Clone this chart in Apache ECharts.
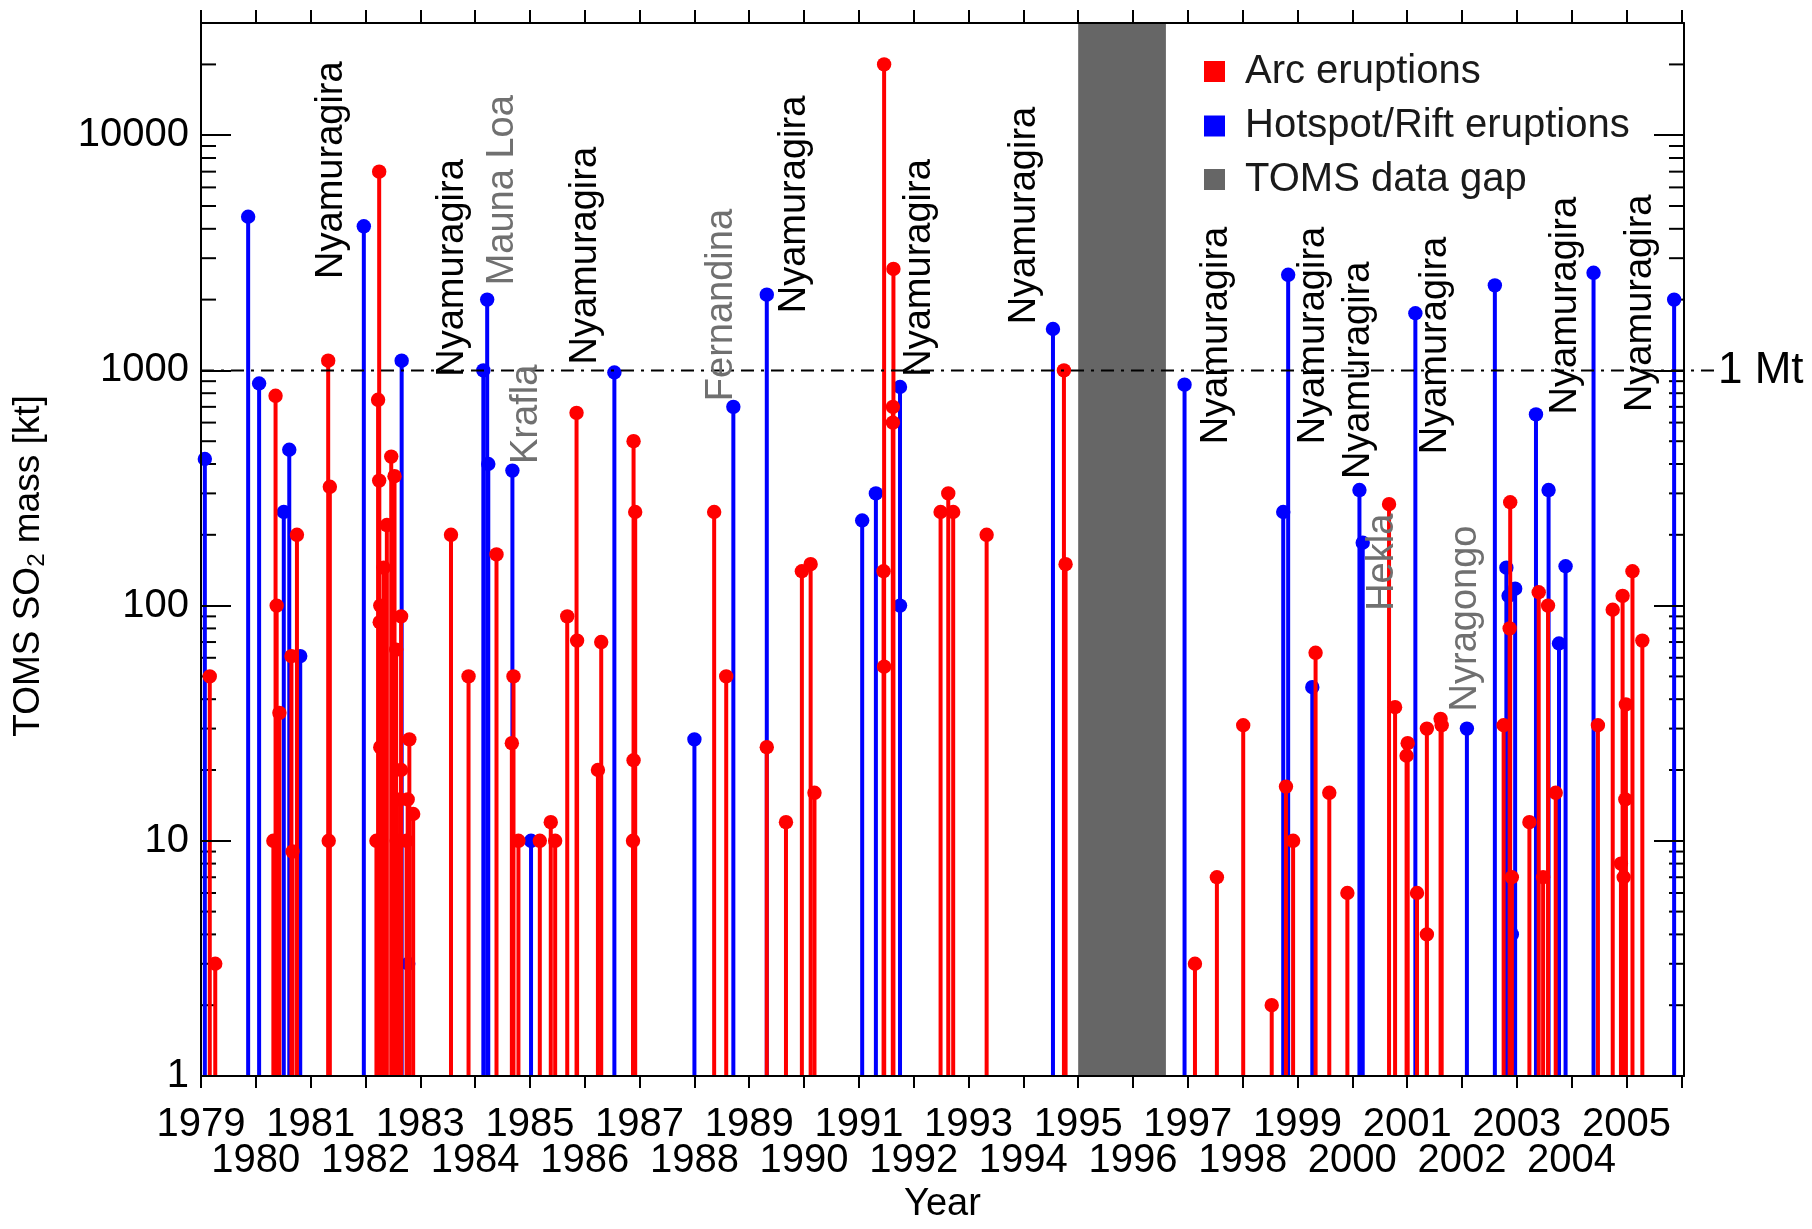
<!DOCTYPE html>
<html>
<head>
<meta charset="utf-8">
<script src="https://cdn.jsdelivr.net/npm/echarts@6/dist/echarts.min.js"></script>
<style>
  html, body { margin: 0; padding: 0; background: #fff; }
  #chart { width: 1812px; height: 1229px; }
</style>
</head>
<body>
<div id="chart"></div>
<script>
// arc eruptions: [year, SO2 mass kt]
var arcEruptions = [
  [1979.16, 50], [1979.26, 3], [1980.32, 10], [1980.36, 780], [1980.38, 100], [1980.43, 35],
  [1980.65, 61], [1980.67, 9], [1980.75, 200], [1981.32, 1100], [1981.35, 320], [1981.33, 10],
  [1982.25, 7000], [1982.23, 750], [1982.25, 340], [1982.47, 430], [1982.53, 355], [1982.39, 220],
  [1982.33, 145], [1982.27, 100], [1982.26, 85], [1982.65, 90], [1982.56, 65], [1982.27, 25],
  [1982.65, 20], [1982.80, 27], [1982.63, 15], [1982.77, 15], [1982.87, 13], [1982.20, 10],
  [1982.57, 10], [1982.75, 10], [1983.56, 200], [1983.88, 50], [1984.39, 165], [1984.70, 50],
  [1984.67, 26], [1984.79, 10], [1985.18, 10], [1985.38, 12], [1985.46, 10], [1985.68, 90],
  [1985.85, 660], [1985.86, 71], [1986.24, 20], [1986.30, 70], [1986.89, 500], [1986.92, 250],
  [1986.89, 22], [1986.88, 10], [1988.36, 250], [1988.58, 50], [1989.32, 25], [1989.67, 12],
  [1989.96, 140], [1990.12, 150], [1990.19, 16], [1991.45, 140], [1991.46, 20000], [1991.46, 55],
  [1991.63, 2700], [1991.62, 700], [1991.62, 600], [1992.49, 250], [1992.63, 300], [1992.72, 250],
  [1993.33, 200], [1994.74, 1000], [1994.77, 150], [1997.13, 3], [1997.53, 7], [1998.01, 31],
  [1998.53, 2], [1998.79, 17], [1998.92, 10], [1999.33, 63], [1999.58, 16], [1999.91, 6],
  [2000.67, 270], [2000.78, 37], [2001.01, 26], [2000.99, 23], [2001.18, 6], [2001.36, 30],
  [2001.36, 4], [2001.61, 33], [2001.63, 31], [2002.76, 31], [2002.88, 275], [2002.87, 80],
  [2002.91, 7], [2003.23, 12], [2003.40, 114], [2003.48, 7], [2003.57, 100], [2003.71, 16],
  [2004.48, 31], [2004.75, 96], [2004.93, 110], [2005.11, 140], [2005.29, 71], [2004.99, 38],
  [2004.98, 15], [2004.90, 8], [2004.95, 7]
];

// hotspot / rift eruptions: [year, SO2 mass kt]
var riftEruptions = [
  [1979.07, 420], [1979.86, 4500], [1980.06, 880], [1980.51, 250], [1980.61, 460], [1980.81, 61],
  [1981.97, 4100], [1982.66, 1100], [1982.78, 3], [1984.15, 1000], [1984.22, 2000], [1984.24, 400],
  [1984.68, 375], [1985.02, 10], [1986.54, 980], [1988.00, 27], [1988.71, 700], [1989.32, 2100],
  [1991.06, 230], [1991.31, 300], [1991.75, 850], [1991.75, 100], [1994.54, 1500], [1996.94, 870],
  [1998.74, 250], [1998.83, 2550], [1999.27, 45], [2000.13, 310], [2000.19, 185], [2001.15, 1750],
  [2002.09, 30], [2002.60, 2300], [2002.81, 145], [2002.85, 110], [2002.97, 118], [2002.91, 4],
  [2003.35, 650], [2003.58, 310], [2003.77, 69], [2003.89, 147], [2004.40, 2600], [2005.87, 2000]
];

// volcano names written along the plot (year, mass where the text starts)
var volcanoNames = ['Nyamuragira', 'Nyamuragira', 'Mauna Loa', 'Krafla', 'Nyamuragira', 'Fernandina',
  'Nyamuragira', 'Nyamuragira', 'Nyamuragira', 'Nyamuragira', 'Nyamuragira', 'Nyamuragira', 'Hekla',
  'Nyamuragira', 'Nyragongo', 'Nyamuragira', 'Nyamuragira'];
var volcanoAt = [[1981.38, 2450], [1983.58, 940], [1984.50, 2300], [1984.94, 400], [1986.02, 1060],
  [1988.50, 740], [1989.82, 1750], [1992.10, 940], [1994.03, 1570], [1997.52, 485], [1999.29, 485],
  [2000.12, 345], [2000.55, 95], [2001.52, 440], [2002.07, 35.5], [2003.88, 650], [2005.25, 665]];
var volcanoIsHotspotOther = [0, 0, 1, 1, 0, 1, 0, 0, 0, 0, 0, 0, 1, 0, 1, 0, 0];

var dataGap = [[1995.0, 1996.6]];
var oneMt = 1000;

var yearTicks = [];
for (var y = 1979; y <= 2006; y++) yearTicks.push(y);
var oddYearLabels = yearTicks.filter(function (v) { return v % 2 === 1 && v < 2006; });
var evenYearLabels = yearTicks.filter(function (v) { return v % 2 === 0 && v < 2006; });
var massLabels = [1, 10, 100, 1000, 10000];
var massMinor = [];
[1, 10, 100, 1000, 10000].forEach(function (d) {
  for (var k = 2; k <= 9; k++) if (k * d < 30000) massMinor.push(k * d);
});

var X_MIN = 1979, X_MAX = 2006.05, Y_MIN = 1, Y_MAX = 30000;
var FONT = 'Liberation Sans, Arial, sans-serif';

function stem(color) {
  return function (params, api) {
    var top = api.coord([api.value(0), api.value(1)]);
    var base = api.coord([api.value(0), Y_MIN]);
    return {
      type: 'group',
      children: [
        { type: 'line', shape: { x1: top[0], y1: base[1], x2: top[0], y2: top[1] },
          style: { stroke: color, lineWidth: 4 } },
        { type: 'circle', shape: { cx: top[0], cy: top[1], r: 7.2 }, style: { fill: color } }
      ]
    };
  };
}

function yearFmt(v) { return String(Math.round(v)); }

var chart = echarts.init(document.getElementById('chart'));
var option = {
  animation: false,
  backgroundColor: '#fff',
  textStyle: { fontFamily: FONT },
  grid: { left: 201, right: 128, top: 23, bottom: 146 },
  xAxis: [
    {
      type: 'value', position: 'bottom', min: X_MIN, max: X_MAX, interval: 1, z: 10,
      axisLine: { onZero: false, lineStyle: { color: '#000', width: 2 } },
      axisTick: { inside: false, length: 12, customValues: yearTicks, lineStyle: { color: '#000', width: 2 } },
      axisLabel: {
        customValues: oddYearLabels, color: '#000', fontSize: 40, lineHeight: 36, margin: 31,
        showMinLabel: true, showMaxLabel: true, formatter: yearFmt
      },
      splitLine: { show: false },
      name: 'Year', nameLocation: 'middle', nameGap: 110,
      nameTextStyle: { fontSize: 38, color: '#000' }
    },
    {
      type: 'value', position: 'top', min: X_MIN, max: X_MAX, interval: 1, z: 10,
      axisLine: { onZero: false, lineStyle: { color: '#000', width: 2 } },
      axisTick: { inside: false, length: 13, customValues: yearTicks, lineStyle: { color: '#000', width: 2 } },
      axisLabel: { show: false },
      splitLine: { show: false }
    },
    {
      type: 'value', position: 'bottom', min: X_MIN, max: X_MAX, interval: 1, z: 10,
      axisLine: { show: false },
      axisTick: { show: false },
      axisLabel: {
        customValues: evenYearLabels, color: '#000', fontSize: 40, lineHeight: 36, margin: 67,
        showMinLabel: true, showMaxLabel: true, formatter: yearFmt
      },
      splitLine: { show: false }
    }
  ],
  yAxis: [
    {
      type: 'log', logBase: 10, min: Y_MIN, max: Y_MAX, position: 'left', z: 10,
      axisLine: { onZero: false, lineStyle: { color: '#000', width: 2 } },
      axisTick: { inside: true, length: 30, customValues: massLabels, lineStyle: { color: '#000', width: 2 } },
      axisLabel: {
        customValues: massLabels, color: '#000', fontSize: 40, margin: 12,
        showMinLabel: true, showMaxLabel: true,
        formatter: function (v) { return String(Math.round(v)); }
      },
      splitLine: { show: false },
      name: 'TOMS SO{sub|2} mass [kt]', nameLocation: 'middle', nameGap: 152, nameRotate: 90,
      nameTextStyle: {
        fontSize: 37, color: '#000', padding: [0, 33, 0, 0],
        rich: { sub: { fontSize: 24, color: '#000', verticalAlign: 'bottom', lineHeight: 40 } }
      }
    },
    {
      type: 'log', logBase: 10, min: Y_MIN, max: Y_MAX, position: 'right', z: 10,
      axisLine: { onZero: false, lineStyle: { color: '#000', width: 2 } },
      axisTick: { inside: true, length: 30, customValues: massLabels, lineStyle: { color: '#000', width: 2 } },
      axisLabel: { show: false },
      splitLine: { show: false }
    }
  ],
  graphic: [
    { type: 'rect', shape: { x: 1204, y: 61, width: 21, height: 21 }, style: { fill: '#ff0000' } },
    { type: 'rect', shape: { x: 1204, y: 115.5, width: 21, height: 21 }, style: { fill: '#0000ff' } },
    { type: 'rect', shape: { x: 1204, y: 169, width: 21, height: 21 }, style: { fill: '#666666' } },
    { type: 'text', x: 1245, y: 71.5, style: { text: 'Arc eruptions', fill: '#1a1a1a', font: '40px ' + FONT,
      verticalAlign: 'middle', textVerticalAlign: 'middle' } },
    { type: 'text', x: 1245, y: 126, style: { text: 'Hotspot/Rift eruptions', fill: '#1a1a1a', font: '40px ' + FONT,
      verticalAlign: 'middle', textVerticalAlign: 'middle' } },
    { type: 'text', x: 1245, y: 179.5, style: { text: 'TOMS data gap', fill: '#1a1a1a', font: '40px ' + FONT,
      verticalAlign: 'middle', textVerticalAlign: 'middle' } }
  ],
  series: [
    {
      name: 'TOMS data gap', type: 'custom', z: 1, silent: true,
      data: dataGap,
      renderItem: function (params, api) {
        var a = api.coord([api.value(0), Y_MAX]);
        var b = api.coord([api.value(1), Y_MIN]);
        return { type: 'rect', shape: { x: a[0], y: a[1], width: b[0] - a[0], height: b[1] - a[1] },
          style: { fill: '#666666' } };
      }
    },
    {
      name: 'minor ticks', type: 'custom', z: 3, silent: true,
      data: massMinor.map(function (v) { return [X_MIN, v]; }),
      renderItem: function (params, api) {
        var l = api.coord([X_MIN, api.value(1)]);
        var r = api.coord([X_MAX, api.value(1)]);
        var st = { stroke: '#000', lineWidth: 2 };
        return { type: 'group', children: [
          { type: 'line', shape: { x1: l[0], y1: l[1], x2: l[0] + 15, y2: l[1] }, style: st },
          { type: 'line', shape: { x1: r[0] - 15, y1: r[1], x2: r[0], y2: r[1] }, style: st }
        ] };
      }
    },
    { name: 'Hotspot/Rift eruptions', type: 'custom', z: 4, data: riftEruptions, renderItem: stem('#0000ff') },
    { name: 'Arc eruptions', type: 'custom', z: 4, data: arcEruptions, renderItem: stem('#ff0000') },
    {
      name: '1 Mt', type: 'custom', z: 5, silent: true, clip: false,
      data: [[X_MIN, oneMt]],
      renderItem: function (params, api) {
        var a = api.coord([X_MIN, api.value(1)]);
        var b = api.coord([X_MAX, api.value(1)]);
        var end = b[0] + 30;
        return { type: 'group', children: [
          { type: 'line', shape: { x1: a[0], y1: a[1], x2: end, y2: a[1] },
            style: { stroke: '#000', lineWidth: 2, lineDash: [13, 7, 3, 7] } },
          { type: 'text', x: end + 4, y: a[1],
            style: { text: '1 Mt', fill: '#000', font: '44px ' + FONT,
              align: 'left', verticalAlign: 'middle', textAlign: 'left', textVerticalAlign: 'middle' } }
        ] };
      }
    },
    {
      name: 'volcanoes', type: 'custom', z: 6, silent: true,
      data: volcanoAt,
      renderItem: function (params, api) {
        var p = api.coord([api.value(0), api.value(1)]);
        var i = params.dataIndex;
        return { type: 'text', x: p[0], y: p[1], rotation: Math.PI / 2,
          style: { text: volcanoNames[i], fill: volcanoIsHotspotOther[i] ? '#707070' : '#000',
            font: '38px ' + FONT, align: 'left', verticalAlign: 'middle',
            textAlign: 'left', textVerticalAlign: 'middle' } };
      }
    }
  ]
};
chart.setOption(option);
</script>
</body>
</html>
